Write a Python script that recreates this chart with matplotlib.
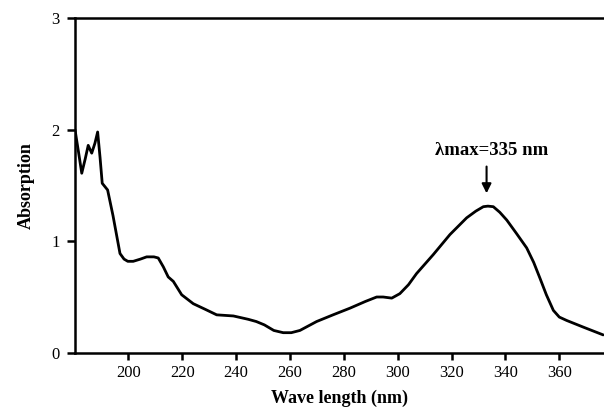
import matplotlib
matplotlib.use("Agg")
import matplotlib.pyplot as plt
import numpy as np

# Data
wavelength = [180.2, 181.5, 182.7, 184.0, 185.1, 186.4, 187.6, 188.6, 189.5, 190.3,
              192.3, 194.3, 196.9, 198.4, 199.8, 201.8, 204.5, 206.8, 209.5, 211.1,
              213.0, 214.8, 216.7, 219.8, 224.1, 228.5, 232.8, 239.0, 244.5, 247.5,
              250.5, 254.0, 257.5, 260.5, 263.7, 269.9, 276.0, 282.3, 288.0, 292.2,
              294.6, 297.8, 300.8, 304.0, 307.0, 313.2, 319.4, 325.6, 329.0, 331.8,
              333.5, 335.5, 337.9, 340.5, 344.1, 347.9, 350.5, 352.8, 355.2, 357.8,
              360.0, 362.7, 368.9, 376.3]
absorption = [2.00, 1.80, 1.61, 1.74, 1.86, 1.79, 1.88, 1.98, 1.75, 1.52,
              1.46, 1.23, 0.89, 0.84, 0.82, 0.82, 0.84, 0.86, 0.86, 0.85,
              0.77, 0.68, 0.64, 0.52, 0.44, 0.39, 0.34, 0.33, 0.30, 0.28,
              0.25, 0.20, 0.18, 0.18, 0.20, 0.28, 0.34, 0.40, 0.46, 0.50,
              0.50, 0.49, 0.53, 0.61, 0.71, 0.88, 1.06, 1.21, 1.27, 1.31,
              1.315, 1.31, 1.26, 1.19, 1.07, 0.94, 0.81, 0.67, 0.52, 0.38,
              0.32, 0.29, 0.23, 0.16]
x_ticks = [200, 220, 240, 260, 280, 300, 320, 340, 360]
y_ticks = [0, 1, 2, 3]
peak_label = "λmax=335 nm"
peak_x = 333
peak_tip_y = 1.43
peak_text_y = 1.67

plt.rcParams['font.family'] = ['Liberation Serif', 'DejaVu Serif']

fig = plt.figure(figsize=(6.04, 4.15), dpi=100)
ax = fig.add_axes([0.1242, 0.150, 0.8758, 0.806])

ax.plot(wavelength, absorption, color='black', lw=2.0,
        solid_joinstyle='round', solid_capstyle='round')

ax.set_xlim(180.2, 376.6)
ax.set_ylim(0, 3)
ax.set_xticks(x_ticks)
ax.set_yticks(y_ticks)
ax.tick_params(axis='x', direction='out', length=5, width=1.8, labelsize=12, pad=4)
ax.tick_params(axis='y', direction='out', length=6, width=1.8, labelsize=12, pad=5)

for side in ['left', 'top', 'bottom']:
    ax.spines[side].set_linewidth(1.8)
ax.spines['right'].set_visible(False)

ax.set_xlabel('Wave length (nm)', fontsize=13, fontweight='bold', labelpad=6)
ax.set_ylabel('Absorption', fontsize=13, fontweight='bold', labelpad=12)

ax.annotate('', xy=(peak_x, peak_tip_y), xytext=(peak_x, peak_text_y),
            arrowprops=dict(arrowstyle='-|>', color='black', lw=1.5,
                            mutation_scale=14, shrinkA=0, shrinkB=0))
ax.text(peak_x + 2, peak_text_y + 0.07, peak_label, ha='center', va='bottom',
        fontsize=13.5, fontweight='bold')

fig.savefig('out.png', dpi=100)
